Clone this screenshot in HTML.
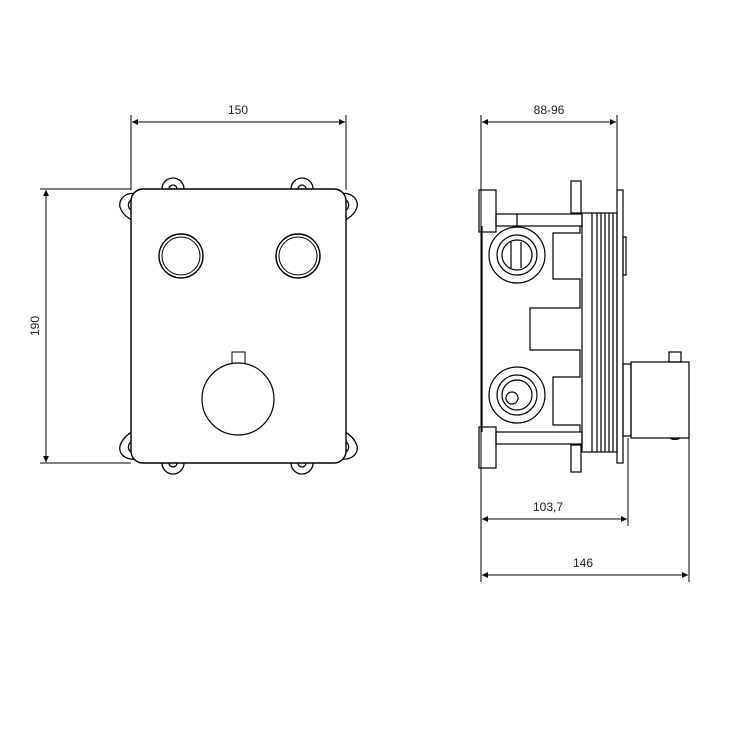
<!DOCTYPE html>
<html><head><meta charset="utf-8"><style>html,body{margin:0;padding:0;background:#fff}svg{display:block}</style></head>
<body>
<svg width="729" height="729" viewBox="0 0 729 729" xmlns="http://www.w3.org/2000/svg">
<defs>
<marker id="a" viewBox="0 0 10 10" refX="10" refY="5" markerWidth="8" markerHeight="6" orient="auto-start-reverse" markerUnits="userSpaceOnUse"><path d="M0,0 L10,5 L0,10 z" fill="#000"/></marker>
</defs>
<g fill="none" stroke="#000" stroke-width="1">
<!-- front dims -->
<line x1="131" y1="115" x2="131" y2="190"/>
<line x1="346" y1="115" x2="346" y2="190"/>
<line x1="132" y1="122" x2="345" y2="122" marker-start="url(#a)" marker-end="url(#a)"/>
<line x1="40" y1="189" x2="131" y2="189"/>
<line x1="40" y1="463" x2="131" y2="463"/>
<line x1="46" y1="190" x2="46" y2="462" marker-start="url(#a)" marker-end="url(#a)"/>
<!-- lugs -->
<g stroke-width="1.3">
<path d="M162,189 A11,11 0 0 1 184,189"/><path d="M169,189 A4,4 0 0 1 177,189"/>
<path d="M291,189 A11,11 0 0 1 313,189"/><path d="M298,189 A4,4 0 0 1 306,189"/>
<path d="M162,463 A11,11 0 0 0 184,463"/><path d="M169,463 A4,4 0 0 0 177,463"/>
<path d="M291,463 A11,11 0 0 0 313,463"/><path d="M298,463 A4,4 0 0 0 306,463"/>
<path d="M140,195 C128,190 118,198 120,207 C122,214 128,218 132,220"/><path d="M131,200 C127,203 128,208 131,210"/>
<path d="M337,195 C349,190 359,198 357,207 C355,214 349,218 345,220"/><path d="M346,200 C350,203 349,208 346,210"/>
<path d="M140,458 C128,462 118,455 120,446 C122,439 128,434 132,432"/><path d="M131,452 C127,449 128,444 131,442"/>
<path d="M337,458 C349,462 359,455 357,446 C355,439 349,434 345,432"/><path d="M346,452 C350,449 349,444 346,442"/>
</g>
<rect x="131" y="189" width="215" height="274" rx="12" fill="#fff" stroke-width="1.4"/>
<circle cx="181" cy="256" r="22" stroke-width="1.4"/><circle cx="181" cy="256" r="19"/>
<circle cx="298" cy="256" r="22" stroke-width="1.4"/><circle cx="298" cy="256" r="19"/>
<rect x="232" y="352" width="13" height="12"/>
<circle cx="238" cy="399" r="36" fill="#fff" stroke-width="1.2"/>
<!-- side dims -->
<line x1="481" y1="115" x2="481" y2="582"/>
<line x1="617" y1="115" x2="617" y2="190"/>
<line x1="482" y1="122" x2="616" y2="122" marker-start="url(#a)" marker-end="url(#a)"/>
<line x1="628" y1="438" x2="628" y2="526"/>
<line x1="689" y1="438" x2="689" y2="582"/>
<line x1="482" y1="519" x2="627" y2="519" marker-start="url(#a)" marker-end="url(#a)"/>
<line x1="482" y1="575" x2="688" y2="575" marker-start="url(#a)" marker-end="url(#a)"/>
<!-- side body -->
<g stroke-width="1.2">
<rect x="479" y="190" width="17" height="42"/>
<rect x="479" y="427" width="17" height="41"/>
<rect x="571" y="181" width="10" height="32"/>
<rect x="571" y="445" width="10" height="27"/>
<rect x="496" y="214" width="86" height="12"/>
<line x1="517" y1="214" x2="517" y2="228"/>
<rect x="496" y="432" width="86" height="12"/>
<path d="M482,226 L482,432 M580,226 L580,233 L553,233 L553,279 L580,279 L580,308 L530,308 L530,350 L580,350 L580,377 L553,377 L553,425 L580,425 L580,432"/>
<circle cx="517" cy="255" r="28" fill="#fff"/><circle cx="517" cy="255" r="20"/><circle cx="517" cy="255" r="15"/>
<line x1="511" y1="242" x2="511" y2="268"/><line x1="521" y1="242" x2="521" y2="268"/>
<circle cx="517" cy="395" r="28" fill="#fff"/><circle cx="517" cy="395" r="20"/><circle cx="517" cy="395" r="15"/>
<circle cx="512" cy="398" r="6"/>
<rect x="582" y="213" width="35" height="239"/>
<line x1="592" y1="213" x2="592" y2="452"/><line x1="597" y1="213" x2="597" y2="452"/><line x1="601" y1="213" x2="601" y2="452"/><line x1="605" y1="213" x2="605" y2="452"/><line x1="609" y1="213" x2="609" y2="452"/><line x1="613" y1="213" x2="613" y2="452"/>
<rect x="617" y="190" width="6" height="273"/>
<rect x="623" y="237" width="3" height="38"/>
<rect x="623" y="364" width="8" height="72"/>
<rect x="631" y="362" width="58" height="76"/>
<rect x="669" y="352" width="12" height="10"/>
<path d="M670,438 A6,3 0 0 0 680,438"/>
</g>
</g>
<g font-family="Liberation Sans, sans-serif" font-size="12" fill="#222" text-anchor="middle">
<text x="238" y="114">150</text>
<text x="549" y="114">88-96</text>
<text x="548" y="511">103,7</text>
<text x="583" y="567">146</text>
<text transform="translate(39,326) rotate(-90)">190</text>
</g>
</svg>
</body></html>
